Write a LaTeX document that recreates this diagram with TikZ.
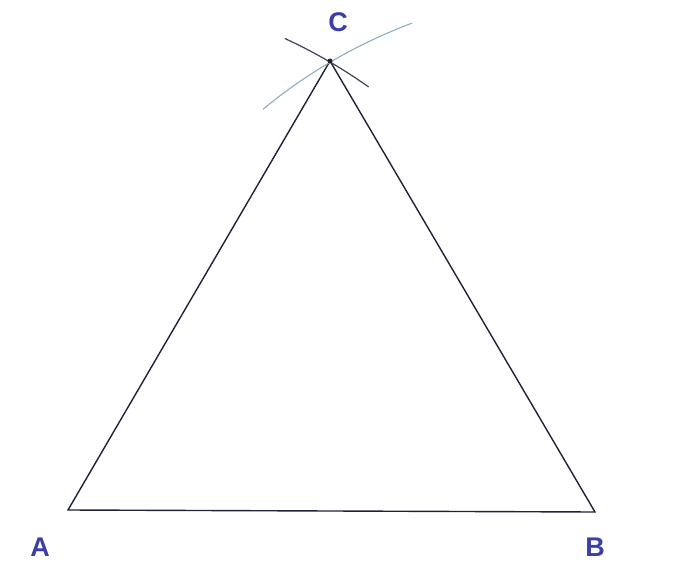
\documentclass[tikz,border=0pt]{standalone}
\usepackage{fontspec}
\setmainfont{Liberation Sans}
\definecolor{edge}{HTML}{1E2238}
\definecolor{lbl}{HTML}{3A3FA8}
\definecolor{arcB}{HTML}{8FAEBE}
\begin{document}
\begin{tikzpicture}[x=1pt,y=1pt,
  side/.style={draw=edge,line width=1.4pt},
  arcA/.style={draw=edge!85,line width=1.2pt},
  arcBs/.style={draw=arcB,line width=1.1pt},
  lab/.style={text=lbl,font=\fontsize{27}{27}\selectfont\bfseries,inner sep=0pt}]
\useasboundingbox (0,0) rectangle (674,-564);
\coordinate (A) at (68,-510);
\coordinate (B) at (595,-512);
\coordinate (C) at (330,-61);
\draw[side] (A) -- (B) -- (C) -- cycle;
\draw[arcA] (A) ++(54.6:519) arc[start angle=54.6,end angle=65.3,radius=519];
\draw[arcBs] (B) ++(110.5:522) arc[start angle=110.5,end angle=129.5,radius=522];
\fill[edge] (C) circle (2.5);
\node[lab] (la) at (40,-547) {A};
\node[lab] (lb) at (595,-547) {B};
\node[lab] (lc) at (338,-22) {C};
\end{tikzpicture}
\end{document}
